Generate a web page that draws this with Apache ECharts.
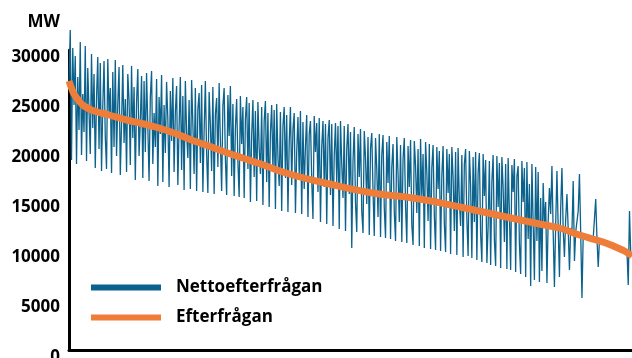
<!DOCTYPE html>
<html>
<head>
<meta charset="utf-8">
<script src="https://cdn.jsdelivr.net/npm/echarts@6/dist/echarts.min.js"></script>
<style>
  html, body { margin: 0; padding: 0; background: #fff; }
  #chart { width: 632px; height: 358px; }
</style>
</head>
<body>
<div id="chart"></div>
<script>
// hours sorted by demand (duration curve); x is the position in that order
const netDemand = [
  26900, 32000, 19000, 30200, 24500, 29400, 18600, 27300, 22000, 30800,
  19500, 25600, 21800, 30400, 18900, 28200, 23900, 19600, 29600, 22200,
  27600, 18200, 25200, 29300, 20100, 28700, 17900, 24400, 28900, 21300,
  18100, 29100, 23500, 26200, 17700, 27800, 20300, 29000, 19400, 24600,
  28300, 17500, 22600, 28500, 20700, 25100, 17800, 27600, 24900, 18500,
  28400, 21200, 26300, 17000, 24800, 28100, 19400, 22900, 27400, 17200,
  26900, 19800, 27700, 22400, 16900, 25300, 27900, 18600, 23700, 20300,
  27100, 16400, 25300, 21600, 27500, 16800, 24500, 19700, 26800, 23100,
  16300, 25900, 20900, 27200, 17800, 23800, 26400, 16500, 22300, 27300,
  18000, 25400, 16000, 26900, 21700, 19200, 25000, 16100, 27000, 22600,
  17600, 26200, 15900, 24100, 25700, 18700, 26500, 15800, 21900, 26900,
  19600, 15700, 25800, 22500, 17900, 26300, 15600, 23600, 25200, 18300,
  26700, 20800, 15900, 24400, 26200, 19100, 15500, 25500, 21400, 26400,
  17400, 24600, 15400, 22200, 25100, 18800, 15300, 25400, 20600, 24300,
  15200, 23100, 25300, 18100, 24700, 14800, 21400, 25000, 17300, 23900,
  14900, 24800, 20200, 17600, 24300, 14500, 22900, 24900, 16800, 23700,
  14300, 21700, 24500, 18000, 24000, 14100, 24600, 19300, 16400, 23800,
  13900, 22400, 24300, 17200, 23500, 13800, 20700, 24300, 16500, 22100,
  23700, 13700, 19800, 23300, 17400, 23900, 13600, 22800, 16100, 20400,
  23500, 13300, 21600, 22900, 17000, 13100, 23400, 19800, 22700, 15800,
  23200, 12800, 20300, 22900, 16300, 22600, 12600, 21200, 23000, 15500,
  22600, 12400, 19500, 22700, 16700, 22400, 12100, 22900, 18600, 15200,
  22400, 11900, 20100, 22600, 15600, 21800, 10200, 18900, 22300, 14700,
  11800, 21600, 17300, 22100, 13900, 11700, 21900, 19200, 14600, 21300,
  11500, 20200, 21700, 15900, 11400, 21200, 18100, 13300, 21600, 11300,
  19500, 21500, 14200, 11200, 20800, 16700, 21400, 11100, 18300, 20600,
  13800, 10900, 21300, 17600, 12800, 20500, 10800, 19100, 21200, 14400,
  10700, 20400, 16300, 21000, 12500, 10500, 20900, 18400, 13700, 20100,
  10400, 21100, 15200, 19600, 10200, 20800, 17800, 12900, 20600, 10100,
  18200, 20500, 13400, 10000, 20300, 16100, 19900, 9900, 17400, 20400,
  12600, 9800, 20100, 15700, 19600, 9600, 20300, 17200, 11900, 19800,
  9500, 20200, 14900, 12400, 19500, 9300, 18600, 20100, 13100, 9400,
  19900, 16500, 9200, 19300, 12800, 19800, 9000, 17700, 19700, 11600,
  8800, 19600, 15400, 19000, 8700, 12300, 18900, 8500, 16800, 19500,
  11000, 8400, 19400, 14300, 18700, 8200, 19300, 16200, 10800, 18600,
  8100, 19200, 13600, 8000, 18500, 15800, 19100, 7800, 17400, 18400,
  10600, 7600, 18900, 14800, 18200, 7300, 18800, 11100, 16600, 6400,
  18600, 12700, 7000, 18300, 10900, 17800, 6800, 15200, 7900, 16700,
  12500, 14800, 6700, 12900, 16200, 13600, 18400, 11800, 6300, 12600,
  17900, 12300, 7300, 14200, 18200, 12000, 9300, 13100, 15600, 12100,
  8000, 12200, 11900, 16900, 8900, 11800, 11600, 13900, 17600, 11700,
  5200, 11500, 11400, 11400, 11350, 11300, 11300, 11250, 11200, 11200,
  11150, 15100, 11100, 8300, 11000, 11000, 10950, 10900, 10850, 10800,
  10750, 10700, 10650, 10600, 10550, 10500, 10450, 10400, 10300, 10250,
  10150, 10100, 10000, 9950, 9900, 9850, 9800, 6500, 13900, 9500,
  9400
];
const demandPos = [0, 2, 4, 8, 12, 20, 32, 46, 60, 72, 86, 100, 114, 128, 140, 152, 176, 208, 240, 280, 320, 344, 376, 392, 408, 420, 428, 436, 444, 450];
const demandValues = [26900, 26200, 25600, 24900, 24400, 23900, 23500, 23000, 22600, 22200, 21600, 20900, 20300, 19650, 19150, 18650, 17600, 16600, 15750, 15100, 14100, 13450, 12600, 12200, 11500, 11050, 10750, 10350, 9900, 9400];
const yTicks = [0, 5000, 10000, 15000, 20000, 25000, 30000];

const chart = echarts.init(document.getElementById('chart'));
const font = '"Open Sans", Lato, sans-serif';
const boldText = { fontFamily: font, fontWeight: 'bold', fontSize: 17, color: '#000' };

chart.setOption({
  animation: false,
  backgroundColor: '#fff',
  grid: { left: 69, right: 0, top: 50, bottom: 8, outerBoundsMode: 'none' },
  legend: {
    orient: 'vertical',
    left: 86,
    top: 274,
    icon: 'rect',
    itemWidth: 70,
    itemHeight: 6,
    itemGap: 13,
    textStyle: Object.assign({}, boldText, { padding: [0, 0, 0, 10] }),
    data: ['Nettoefterfrågan', 'Efterfrågan']
  },
  xAxis: {
    type: 'value',
    min: 0,
    max: netDemand.length - 1,
    axisLine: { lineStyle: { color: '#000', width: 3 } },
    axisTick: { show: false },
    axisLabel: { show: false },
    splitLine: { show: false }
  },
  yAxis: {
    type: 'value',
    min: yTicks[0],
    max: yTicks[yTicks.length - 1],
    interval: 5000,
    name: 'MW',
    nameLocation: 'end',
    nameGap: 19,
    nameTextStyle: Object.assign({}, boldText, { align: 'right', padding: [0, 9, 0, 0] }),
    axisLine: { show: true, lineStyle: { color: '#000', width: 3 } },
    axisTick: { show: false },
    splitLine: { show: false },
    axisLabel: Object.assign({}, boldText, { margin: 9, verticalAlign: 'top', lineHeight: 14, formatter: v => String(v) })
  },
  series: [
    {
      name: 'Nettoefterfrågan',
      type: 'line',
      data: netDemand.map((v, i) => [i, v]),
      symbol: 'none',
      clip: false,
      lineStyle: { color: '#0b628c', width: 1.3 },
      itemStyle: { color: '#0b628c' },
      z: 2
    },
    {
      name: 'Efterfrågan',
      type: 'line',
      data: demandPos.map((p, i) => [p, demandValues[i]]),
      symbol: 'none',
      smooth: 0.4,
      clip: false,
      lineStyle: { color: '#ef7d3a', width: 7 },
      itemStyle: { color: '#ef7d3a' },
      z: 3
    }
  ]
});
</script>
</body>
</html>
